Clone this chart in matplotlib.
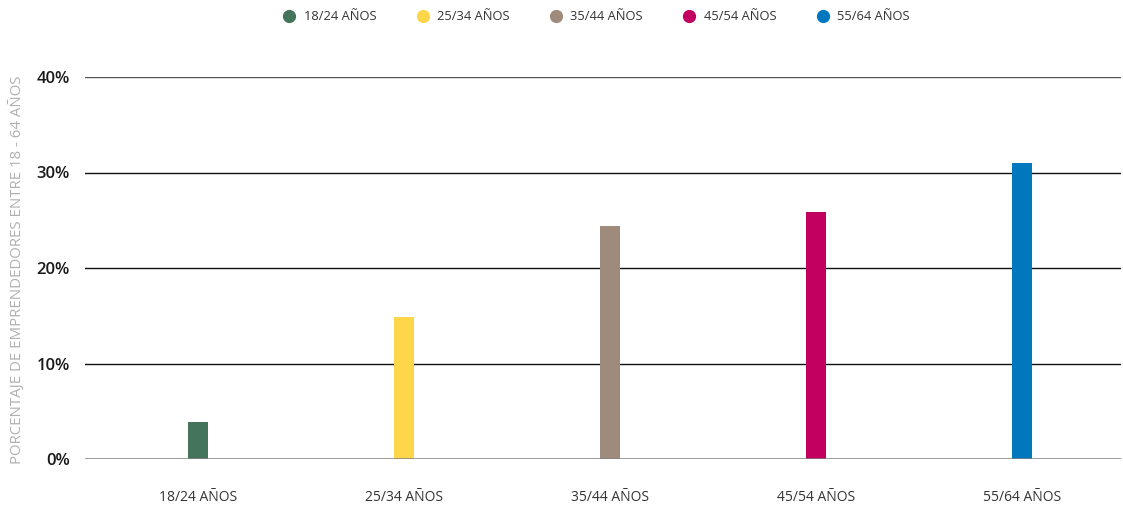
import matplotlib
matplotlib.use("Agg")
import matplotlib.pyplot as plt
from matplotlib.lines import Line2D

plt.rcParams['font.family'] = ['Open Sans', 'DejaVu Sans']

categories = ["18/24 AÑOS", "25/34 AÑOS", "35/44 AÑOS", "45/54 AÑOS", "55/64 AÑOS"]
values = [3.9, 14.9, 24.4, 25.9, 31.0]
colors = ["#44745a", "#ffd54a", "#9e8b7b", "#c2005f", "#0078bd"]
yticks = [0, 10, 20, 30, 40]
ytick_labels = ["0%", "10%", "20%", "30%", "40%"]
ylabel = "PORCENTAJE DE EMPRENDEDORES ENTRE 18 - 64 AÑOS"

fig = plt.figure(figsize=(11.23, 5.08), dpi=100)
ax = fig.add_axes([85 / 1123, 1 - 459 / 508, 1036 / 1123, 382 / 508])

x = list(range(len(categories)))
ax.bar(x, values, width=0.1, color=colors, zorder=3)

ax.set_ylim(0, 40)
ax.set_xlim(-0.549, 4.48)
ax.set_yticks(yticks)
ax.set_yticklabels(ytick_labels, fontsize=12, fontweight='semibold', color='#1a1a1a')
ax.set_xticks(x)
ax.set_xticklabels(categories, fontsize=10, color='#333333')
ax.tick_params(axis='both', length=0)
ax.tick_params(axis='y', pad=11)
ax.tick_params(axis='x', pad=22)

for t in yticks:
    if t == 0:
        ax.axhline(t, color='#808080', lw=1.8, zorder=4)
    elif t == 40:
        ax.axhline(t, color='#555555', lw=1.0, zorder=1)
    else:
        ax.axhline(t, color='#111111', lw=1.0, zorder=1)

for s in ax.spines.values():
    s.set_visible(False)

fig.text(17 / 1123, 1 - 270 / 508, ylabel, rotation=90, ha='center', va='center',
         fontsize=10.8, color='#b0b0b0')

handles = [Line2D([0], [0], marker='o', linestyle='', markersize=8.5,
                  markerfacecolor=c, markeredgecolor=c) for c in colors]
fig.legend(handles, categories, loc='center', bbox_to_anchor=(593 / 1123, 1 - 17 / 508),
           ncol=5, frameon=False, fontsize=9.3, handletextpad=0.1, columnspacing=2.6,
           labelcolor='#333333')

fig.savefig("out.png", dpi=100)
